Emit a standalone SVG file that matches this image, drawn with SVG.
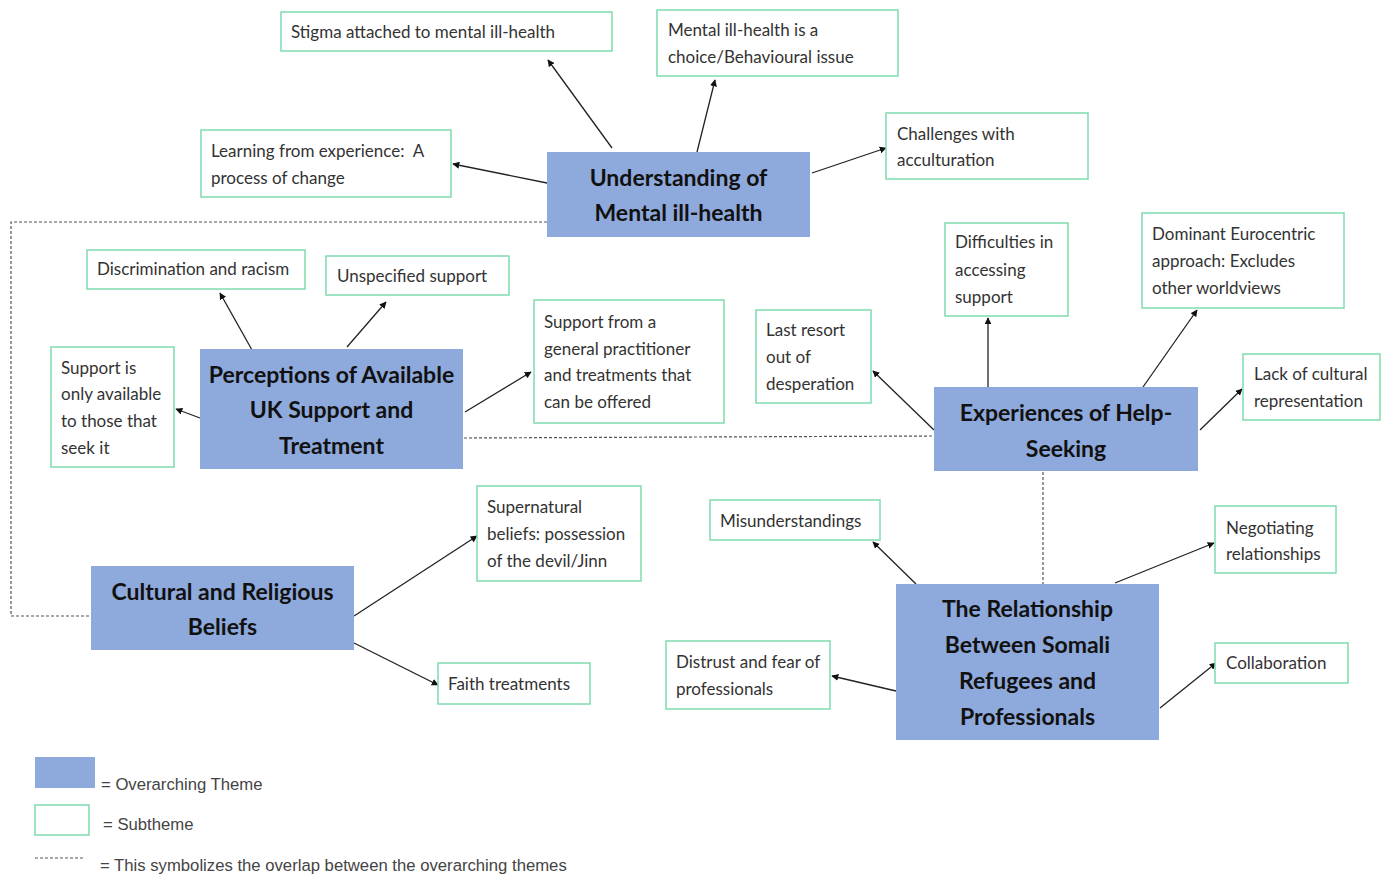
<svg xmlns="http://www.w3.org/2000/svg" width="1392" height="880" viewBox="0 0 1392 880">
<defs>
<marker id="ah" viewBox="0 0 10 10" refX="9" refY="5" markerWidth="7" markerHeight="7" orient="auto" markerUnits="userSpaceOnUse">
<path d="M0,0 L10,5 L0,10 z" fill="#111"/>
</marker>
<style>
.theme{fill:#8EA9DB;stroke:none}
.sub{fill:#fff;stroke:#7fdcae;stroke-width:1.5}
.tt{font-family:Lato,"Liberation Sans",sans-serif;font-weight:bold;font-size:23px;fill:#111;text-anchor:middle}
.st{font-family:Lato,"Liberation Sans",sans-serif;font-size:17px;fill:#333}
.lg{font-family:"Liberation Sans",Arial,sans-serif;font-size:16.7px;fill:#444}
.ar{stroke:#222;stroke-width:1.3;fill:none;marker-end:url(#ah)}
.ds{stroke:#555;stroke-width:1.2;fill:none;stroke-dasharray:3 2}
</style>
</defs>
<rect width="1392" height="880" fill="#fff"/>

<g id="connectors">
<polyline class="ds" points="547,222 11,222 11,616 91,616"/>
<line class="ds" x1="464" y1="438" x2="934" y2="436"/>
<line class="ds" x1="1043" y1="472" x2="1043" y2="584"/>
<line class="ar" x1="612" y1="148" x2="548" y2="60"/>
<line class="ar" x1="697" y1="152" x2="715" y2="80"/>
<line class="ar" x1="547" y1="183" x2="453" y2="164"/>
<line class="ar" x1="812" y1="173" x2="886" y2="148"/>
<line class="ar" x1="252" y1="350" x2="220" y2="293"/>
<line class="ar" x1="347" y1="347" x2="386" y2="302"/>
<line class="ar" x1="465" y1="412" x2="531" y2="372"/>
<line class="ar" x1="200" y1="418" x2="176" y2="409"/>
<line class="ar" x1="934" y1="430" x2="873" y2="371"/>
<line class="ar" x1="988" y1="387" x2="988" y2="318"/>
<line class="ar" x1="1143" y1="387" x2="1197" y2="310"/>
<line class="ar" x1="1200" y1="430" x2="1242" y2="389"/>
<line class="ar" x1="354" y1="616" x2="477" y2="536"/>
<line class="ar" x1="354" y1="643" x2="438" y2="685"/>
<line class="ar" x1="916" y1="584" x2="873" y2="542"/>
<line class="ar" x1="1115" y1="583" x2="1214" y2="543"/>
<line class="ar" x1="896" y1="691" x2="832" y2="676"/>
<line class="ar" x1="1160" y1="708" x2="1216" y2="663"/>
</g>

<g id="theme-understanding">
<rect class="theme" x="547" y="152" width="263" height="85"/>
<text class="tt" x="678.5" y="186">Understanding of</text>
<text class="tt" x="678.5" y="221">Mental ill-health</text>
</g>
<g id="theme-perceptions">
<rect class="theme" x="200" y="349" width="263" height="120"/>
<text class="tt" x="331.5" y="383">Perceptions of Available</text>
<text class="tt" x="331.5" y="418">UK Support and</text>
<text class="tt" x="331.5" y="454">Treatment</text>
</g>
<g id="theme-experiences">
<rect class="theme" x="934" y="387" width="264" height="84"/>
<text class="tt" x="1066" y="421">Experiences of Help-</text>
<text class="tt" x="1066" y="457">Seeking</text>
</g>
<g id="theme-cultural">
<rect class="theme" x="91" y="566" width="263" height="84"/>
<text class="tt" x="222.5" y="600">Cultural and Religious</text>
<text class="tt" x="222.5" y="635">Beliefs</text>
</g>
<g id="theme-relationship">
<rect class="theme" x="896" y="584" width="263" height="156"/>
<text class="tt" x="1027.5" y="617">The Relationship</text>
<text class="tt" x="1027.5" y="653">Between Somali</text>
<text class="tt" x="1027.5" y="689">Refugees and</text>
<text class="tt" x="1027.5" y="725">Professionals</text>
</g>

<g id="sub-stigma">
<rect class="sub" x="281" y="12" width="331" height="39"/>
<text class="st" x="291" y="38">Stigma attached to mental ill-health</text>
</g>
<g id="sub-choice">
<rect class="sub" x="657" y="10" width="241" height="66"/>
<text class="st" x="668" y="36">Mental ill-health is a</text>
<text class="st" x="668" y="63">choice/Behavioural issue</text>
</g>
<g id="sub-learning">
<rect class="sub" x="201" y="130" width="250" height="67"/>
<text class="st" x="211" y="157">Learning from experience:&#160; A</text>
<text class="st" x="211" y="184">process of change</text>
</g>
<g id="sub-acculturation">
<rect class="sub" x="886" y="113" width="202" height="66"/>
<text class="st" x="897" y="140">Challenges with</text>
<text class="st" x="897" y="166">acculturation</text>
</g>
<g id="sub-discrimination">
<rect class="sub" x="87" y="250" width="218" height="39"/>
<text class="st" x="97" y="275">Discrimination and racism</text>
</g>
<g id="sub-unspecified">
<rect class="sub" x="326" y="256" width="183" height="39"/>
<text class="st" x="337" y="282">Unspecified support</text>
</g>
<g id="sub-gp">
<rect class="sub" x="534" y="300" width="190" height="123"/>
<text class="st" x="544" y="328">Support from a</text>
<text class="st" x="544" y="355">general practitioner</text>
<text class="st" x="544" y="381">and treatments that</text>
<text class="st" x="544" y="408">can be offered</text>
</g>
<g id="sub-only-available">
<rect class="sub" x="51" y="347" width="123" height="120"/>
<text class="st" x="61" y="374">Support is</text>
<text class="st" x="61" y="400">only available</text>
<text class="st" x="61" y="427">to those that</text>
<text class="st" x="61" y="454">seek it</text>
</g>
<g id="sub-last-resort">
<rect class="sub" x="756" y="310" width="115" height="93"/>
<text class="st" x="766" y="336">Last resort</text>
<text class="st" x="766" y="363">out of</text>
<text class="st" x="766" y="390">desperation</text>
</g>
<g id="sub-difficulties">
<rect class="sub" x="945" y="223" width="123" height="93"/>
<text class="st" x="955" y="248">Difficulties in</text>
<text class="st" x="955" y="276">accessing</text>
<text class="st" x="955" y="303">support</text>
</g>
<g id="sub-eurocentric">
<rect class="sub" x="1142" y="213" width="202" height="95"/>
<text class="st" x="1152" y="240">Dominant Eurocentric</text>
<text class="st" x="1152" y="267">approach: Excludes</text>
<text class="st" x="1152" y="294">other worldviews</text>
</g>
<g id="sub-representation">
<rect class="sub" x="1243" y="354" width="137" height="66"/>
<text class="st" x="1254" y="380">Lack of cultural</text>
<text class="st" x="1254" y="407">representation</text>
</g>
<g id="sub-supernatural">
<rect class="sub" x="477" y="486" width="164" height="95"/>
<text class="st" x="487" y="513">Supernatural</text>
<text class="st" x="487" y="540">beliefs: possession</text>
<text class="st" x="487" y="567">of the devil/Jinn</text>
</g>
<g id="sub-faith">
<rect class="sub" x="438" y="663" width="152" height="41"/>
<text class="st" x="448" y="690">Faith treatments</text>
</g>
<g id="sub-misunderstandings">
<rect class="sub" x="710" y="500" width="170" height="40"/>
<text class="st" x="720" y="527">Misunderstandings</text>
</g>
<g id="sub-negotiating">
<rect class="sub" x="1215" y="506" width="121" height="67"/>
<text class="st" x="1226" y="534">Negotiating</text>
<text class="st" x="1226" y="560">relationships</text>
</g>
<g id="sub-distrust">
<rect class="sub" x="666" y="641" width="164" height="68"/>
<text class="st" x="676" y="668">Distrust and fear of</text>
<text class="st" x="676" y="695">professionals</text>
</g>
<g id="sub-collaboration">
<rect class="sub" x="1215" y="643" width="133" height="40"/>
<text class="st" x="1226" y="669">Collaboration</text>
</g>

<g id="legend">
<rect class="theme" x="35" y="757" width="60" height="31"/>
<text class="lg" x="101" y="790">= Overarching Theme</text>
<rect class="sub" x="35" y="805" width="54" height="30"/>
<text class="lg" x="103" y="830">= Subtheme</text>
<line class="ds" x1="35" y1="858" x2="85" y2="858" stroke-dasharray="2 2"/>
<text class="lg" x="100" y="871">= This symbolizes the overlap between the overarching themes</text>
</g>
</svg>
